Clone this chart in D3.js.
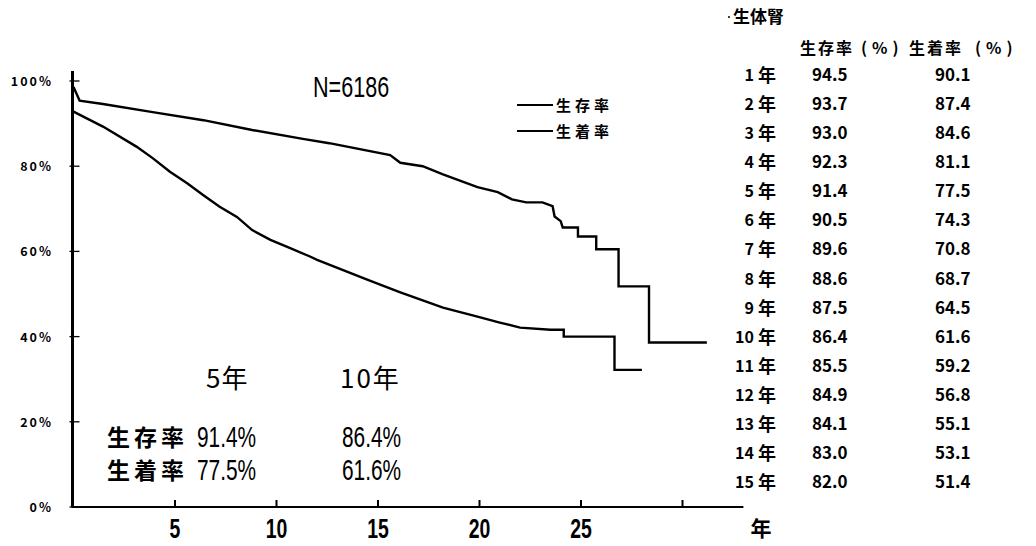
<!DOCTYPE html>
<html>
<head>
<meta charset="utf-8">
<script src="https://cdn.jsdelivr.net/npm/d3@7"></script>
<style>
  body { margin: 0; background: #fff; }
  svg { display: block; }
  text { font-family: "Noto Sans CJK JP", sans-serif; fill: #000; }
  .narrow { font-family: "Liberation Sans", Arial, sans-serif; }
</style>
</head>
<body>
<svg></svg>
<script>
var canevas = d3.select("svg")
  .attr("width", 1036)
  .attr("height", 546)

// courbes : [année, %]
var survie = [[0, 98.6], [0.3, 95.4], [1.45, 94.6], [3.9, 92.7], [6.4, 90.8], [8.8, 88.5], [11.3, 86.4],
  [12.6, 85.4], [15.6, 82.6], [16.1, 80.8], [17.2, 80.0], [18.2, 78.1], [19.9, 75.1], [20.9, 73.9],
  [21.6, 72.2], [22.3, 71.5], [23.1, 71.5], [23.6, 70.6], [23.7, 68.2], [24.0, 67.1], [24.1, 65.6],
  [24.85, 65.6], [24.85, 63.5], [25.75, 63.5], [25.75, 60.5], [26.85, 60.5], [26.85, 51.8],
  [28.35, 51.8], [28.35, 38.6], [31.2, 38.6]]

var greffe = [[0, 92.8], [1.45, 89.3], [3.1, 84.6], [3.9, 81.9], [4.75, 78.7], [5.6, 76.0], [6.4, 73.2],
  [7.2, 70.5], [8.05, 68.1], [8.8, 65.0], [9.7, 62.7], [10.5, 61.1], [11.65, 58.8], [12.0, 58.0],
  [14.5, 53.3], [16.1, 50.4], [17.1, 48.7], [18.2, 46.8], [19.9, 44.7], [21.0, 43.3], [22.0, 42.1],
  [23.5, 41.6], [24.15, 41.6], [24.15, 40.0], [26.65, 40.0], [26.65, 32.2], [28.0, 32.2]]

// graduations
var ticksX = [5, 10, 15, 20, 25, 30]
var labelsX = ["5", "10", "15", "20", "25", ""]
var ticksY = [0, 20, 40, 60, 80, 100]

// légende
var legende = ["生存率", "生着率"]

// tableau : 生体腎
var annees = ["1", "2", "3", "4", "5", "6", "7", "8", "9", "10", "11", "12", "13", "14", "15"]
var tabSurvie = ["94.5", "93.7", "93.0", "92.3", "91.4", "90.5", "89.6", "88.6", "87.5", "86.4", "85.5", "84.9", "84.1", "83.0", "82.0"]
var tabGreffe = ["90.1", "87.4", "84.6", "81.1", "77.5", "74.3", "70.8", "68.7", "64.5", "61.6", "59.2", "56.8", "55.1", "53.1", "51.4"]

var x = d3.scaleLinear().domain([0, 33]).range([73.5, 743.4])
var y = d3.scaleLinear().domain([0, 100]).range([507, 81])

// texte étroit (police condensée simulée)
function etroit(t, px, py, taille, ancre, gras){
  return canevas.append("text")
    .attr("class", "narrow")
    .text(t)
    .attr("transform", "translate(" + px + "," + py + ") scale(0.72,1)")
    .attr("text-anchor", ancre || "start")
    .style("font-size", taille + "px")
    .style("font-weight", gras ? "bold" : "normal")
}

// axe y
canevas.append("line")
  .attr("x1", x(0) - 1).attr("y1", 71)
  .attr("x2", x(0) - 1).attr("y2", y(0))
  .attr("style", "stroke:black;stroke-width:3")

canevas.selectAll(".tickY")
  .data(ticksY)
  .enter()
  .append("line")
  .attr("x1", x(0) - 4)
  .attr("y1", function(d){ return y(d) })
  .attr("x2", x(0) + 6)
  .attr("y2", function(d){ return y(d) })
  .attr("style", "stroke:black;stroke-width:1.3")

canevas.selectAll(".labelY")
  .data(ticksY)
  .enter()
  .append("text")
  .text(function(d){ return d + "%" })
  .attr("x", 53)
  .attr("y", function(d){ return y(d) + 5 })
  .attr("text-anchor", "end")
  .style("font-size", "12.5px")
  .style("font-weight", "bold")
  .style("letter-spacing", "2px")

// axe x
canevas.append("line")
  .attr("x1", x(0) - 2).attr("y1", y(0))
  .attr("x2", x(33)).attr("y2", y(0))
  .attr("style", "stroke:black;stroke-width:2")

canevas.selectAll(".tickX")
  .data(ticksX)
  .enter()
  .append("line")
  .attr("x1", function(d){ return x(d) })
  .attr("y1", y(0))
  .attr("x2", function(d){ return x(d) })
  .attr("y2", y(0) - 7)
  .attr("style", "stroke:black;stroke-width:2")

labelsX.forEach(function(l, i){
  etroit(l, x(ticksX[i]), 538, 27, "middle", true)
})

canevas.append("text")
  .text("年")
  .attr("x", 761)
  .attr("y", 536)
  .attr("text-anchor", "middle")
  .style("font-size", "21px")
  .style("font-weight", "bold")

// courbes
var ligne = d3.line()
  .x(function(d){ return x(d[0]) })
  .y(function(d){ return y(d[1]) })

canevas.append("path")
  .attr("d", ligne(survie))
  .attr("style", "fill:none;stroke:black;stroke-width:2.4")

canevas.append("path")
  .attr("d", ligne(greffe))
  .attr("style", "fill:none;stroke:black;stroke-width:2.4")

// N
etroit("N=6186", 313, 97, 30, "start", false)

// légende
legende.forEach(function(l, i){
  canevas.append("line")
    .attr("x1", 517).attr("y1", 105 + i * 26)
    .attr("x2", 553).attr("y2", 105 + i * 26)
    .attr("style", "stroke:black;stroke-width:2")
  canevas.append("text")
    .text(l)
    .attr("x", 556)
    .attr("y", 111 + i * 26)
    .style("font-size", "15px")
    .style("font-weight", "bold")
    .style("letter-spacing", "4px")
})

// encadré 5 ans / 10 ans
canevas.append("text").text("5年")
  .attr("x", 206).attr("y", 388).style("font-size", "26px").style("letter-spacing", "1px")
canevas.append("text").text("10年")
  .attr("x", 340).attr("y", 388).style("font-size", "26px").style("letter-spacing", "2px")

canevas.append("text").text("生存率")
  .attr("x", 107).attr("y", 446).style("font-size", "23px").style("font-weight", "bold").style("letter-spacing", "4px")
etroit(tabSurvie[4] + "%", 197, 447, 29, "start", false)
etroit(tabSurvie[9] + "%", 342, 447, 29, "start", false)

canevas.append("text").text("生着率")
  .attr("x", 107).attr("y", 479).style("font-size", "23px").style("font-weight", "bold").style("letter-spacing", "4px")
etroit(tabGreffe[4] + "%", 197, 480, 29, "start", false)
etroit(tabGreffe[9] + "%", 342, 480, 29, "start", false)

// tableau à droite
canevas.append("circle")
  .attr("cx", 729).attr("cy", 17).attr("r", 1)
canevas.append("text")
  .text("生体腎")
  .attr("x", 733).attr("y", 23)
  .style("font-size", "17px").style("font-weight", "bold")

canevas.append("text").text("生存率")
  .attr("x", 800).attr("y", 54)
  .style("font-size", "16px").style("font-weight", "bold").style("letter-spacing", "2px")
canevas.append("text").text("(%)")
  .attr("x", 861).attr("y", 54)
  .style("font-size", "16px").style("font-weight", "bold").style("letter-spacing", "5px")
canevas.append("text").text("生着率")
  .attr("x", 909).attr("y", 54)
  .style("font-size", "16px").style("font-weight", "bold").style("letter-spacing", "2px")
canevas.append("text").text("(%)")
  .attr("x", 975).attr("y", 54)
  .style("font-size", "16px").style("font-weight", "bold").style("letter-spacing", "5px")

var ligneY = d3.scaleLinear().domain([0, 14]).range([75, 482])

canevas.selectAll(".annee")
  .data(annees)
  .enter()
  .append("text")
  .text(function(d){ return d })
  .attr("x", 754)
  .attr("y", function(d, i){ return ligneY(i) + 6 })
  .attr("text-anchor", "end")
  .style("font-size", "16px").style("font-weight", "bold")

canevas.selectAll(".nen")
  .data(annees)
  .enter()
  .append("text")
  .text("年")
  .attr("x", 758)
  .attr("y", function(d, i){ return ligneY(i) + 7 })
  .style("font-size", "18px").style("font-weight", "bold")

canevas.selectAll(".colSurvie")
  .data(tabSurvie)
  .enter()
  .append("text")
  .text(function(d){ return d })
  .attr("x", 812)
  .attr("y", function(d, i){ return ligneY(i) + 6 })
  .style("font-size", "17px").style("font-weight", "bold")

canevas.selectAll(".colGreffe")
  .data(tabGreffe)
  .enter()
  .append("text")
  .text(function(d){ return d })
  .attr("x", 935)
  .attr("y", function(d, i){ return ligneY(i) + 6 })
  .style("font-size", "17px").style("font-weight", "bold")
</script>
</body>
</html>
